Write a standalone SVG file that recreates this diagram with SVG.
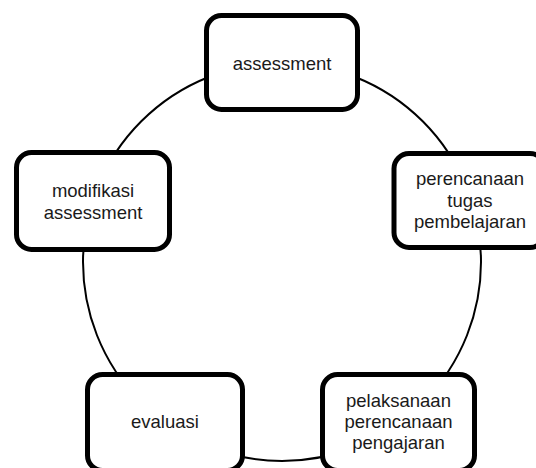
<svg xmlns="http://www.w3.org/2000/svg" width="536" height="468" viewBox="0 0 536 468">
<style>
.box{fill:#fff;stroke:#000;stroke-width:5}
.lbl{font-family:"Liberation Sans",Arial,sans-serif;font-size:18.5px;fill:#1a1a1a;text-anchor:middle}
.conn{fill:none;stroke:#000;stroke-width:2}
</style>
<rect width="536" height="468" fill="#fff"/>
<g id="connectors">
<circle class="conn" cx="282" cy="262" r="199"/>
</g>
<g id="node-assessment">
<rect class="box" x="206.5" y="15.5" width="151" height="94" rx="15"/>
<text class="lbl" x="282" y="70">assessment</text>
</g>
<g id="node-perencanaan-tugas">
<rect class="box" x="394" y="153.5" width="151" height="94" rx="15"/>
<text class="lbl" x="470" y="185">perencanaan</text>
<text class="lbl" x="470" y="206.5">tugas</text>
<text class="lbl" x="470" y="228">pembelajaran</text>
</g>
<g id="node-pelaksanaan">
<rect class="box" x="322.5" y="374.5" width="152" height="96" rx="15"/>
<text class="lbl" x="398.5" y="407">pelaksanaan</text>
<text class="lbl" x="398.5" y="428">perencanaan</text>
<text class="lbl" x="398.5" y="449">pengajaran</text>
</g>
<g id="node-evaluasi">
<rect class="box" x="87.5" y="374.5" width="155" height="96" rx="15"/>
<text class="lbl" x="165" y="428">evaluasi</text>
</g>
<g id="node-modifikasi">
<rect class="box" x="16.5" y="152.5" width="153" height="97" rx="15"/>
<text class="lbl" x="93" y="197">modifikasi</text>
<text class="lbl" x="93" y="219">assessment</text>
</g>
</svg>
